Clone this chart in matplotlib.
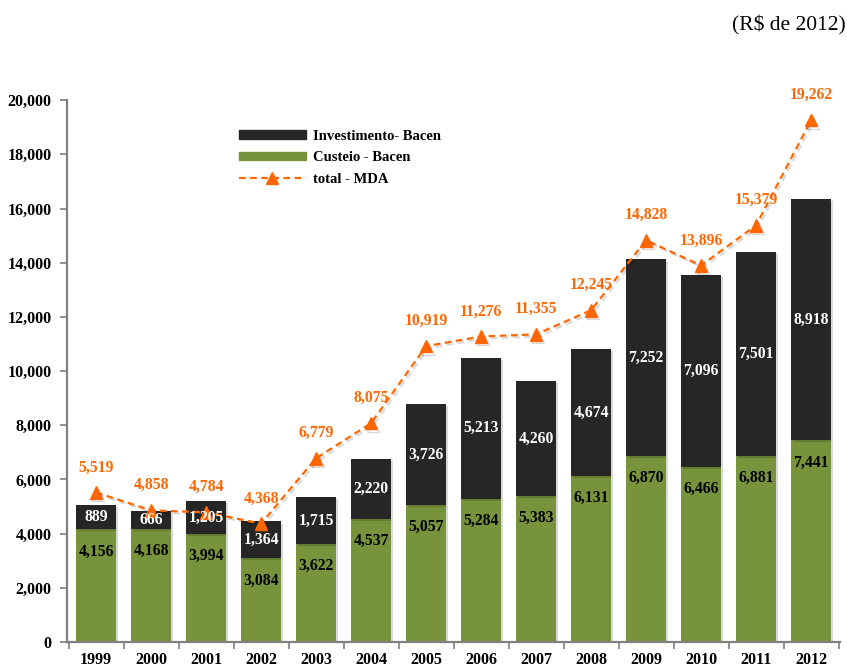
import numpy as np
import matplotlib.pyplot as plt
import matplotlib.patheffects as pe
from matplotlib.lines import Line2D
from matplotlib.patches import Patch

# series values (R$ millions, 2012 prices)
years = ["1999", "2000", "2001", "2002", "2003", "2004", "2005",
         "2006", "2007", "2008", "2009", "2010", "2011", "2012"]
custeio = [4156, 4168, 3994, 3084, 3622, 4537, 5057, 5284, 5383, 6131, 6870, 6466, 6881, 7441]
investimento = [889, 666, 1205, 1364, 1715, 2220, 3726, 5213, 4260, 4674, 7252, 7096, 7501, 8918]
total_mda = [5519, 4858, 4784, 4368, 6779, 8075, 10919, 11276, 11355, 12245, 14828, 13896, 15379, 19262]

GREEN = "#77933c"
DARK = "#262626"
ORANGE = "#ff6600"
LABEL_SIZE = 11.3

plt.rcParams["font.family"] = ["Liberation Serif", "DejaVu Serif"]

fig = plt.figure(figsize=(8.47, 6.68), dpi=100)
ax = fig.add_axes([0.079, 0.039, 0.913, 0.811])

x = np.arange(len(years))
w = 0.73
shadow = [pe.SimplePatchShadow(offset=(1.5, -1.5), alpha=0.15, shadow_rgbFace="k"), pe.Normal()]

bars_c = ax.bar(x, custeio, w, color=GREEN, zorder=2)
bars_i = ax.bar(x, investimento, w, bottom=custeio, color=DARK, zorder=2)
for b in list(bars_c) + list(bars_i):
    b.set_path_effects(shadow)

line_shadow = [pe.SimpleLineShadow(offset=(1.5, -1.5), alpha=0.15, shadow_color="k"), pe.Normal()]
ax.plot(x, total_mda, color=ORANGE, ls=(0, (3, 2)), lw=1.6, marker="^", ms=9,
        mfc=ORANGE, mec=ORANGE, zorder=4, path_effects=line_shadow)

# labels: green ones just inside the top, dark ones centred, totals above markers
for i in range(len(years)):
    ax.annotate(f"{custeio[i]:,}", (x[i], custeio[i]), xytext=(0, -16),
                textcoords="offset points", ha="center", va="center",
                fontsize=LABEL_SIZE, fontweight="bold", color="black", zorder=5)
    ax.text(x[i], custeio[i] + investimento[i] / 2, f"{investimento[i]:,}",
            ha="center", va="center", fontsize=LABEL_SIZE, fontweight="bold",
            color="white", zorder=5)
    ax.annotate(f"{total_mda[i]:,}", (x[i], total_mda[i]), xytext=(0, 18),
                textcoords="offset points", ha="center", va="center",
                fontsize=LABEL_SIZE, fontweight="bold", color=ORANGE, zorder=5)

ax.set_ylim(0, 20000)
ax.set_xlim(-0.53, 13.53)
ax.set_yticks(np.arange(0, 20001, 2000))
ax.set_yticklabels([f"{v:,}" for v in range(0, 20001, 2000)], fontsize=11.5, fontweight="bold")
ax.set_xticks(x)
ax.set_xticklabels(years, fontsize=11.5, fontweight="bold")
ax.set_xticks(np.arange(-0.5, len(years), 1), minor=True)
ax.tick_params(axis="x", which="major", length=0, pad=7)
ax.tick_params(axis="x", which="minor", length=5, color="#808080", width=1.2)
ax.tick_params(axis="y", length=5, color="#808080", width=1.2, pad=6)

for s in ["top", "right"]:
    ax.spines[s].set_visible(False)
for s in ["left", "bottom"]:
    ax.spines[s].set_color("#808080")
    ax.spines[s].set_linewidth(1.6)

handles = [Patch(color=DARK), Patch(color=GREEN),
           Line2D([], [], color=ORANGE, ls=(0, (3, 2)), lw=1.6, marker="^", ms=8)]
ax.legend(handles, ["Investimento- Bacen", "Custeio - Bacen", "total - MDA"],
          loc="upper left", bbox_to_anchor=(0.205, 0.97), frameon=False,
          handlelength=4.6, handleheight=0.5, labelspacing=0.6, handletextpad=0.5,
          prop={"weight": "bold", "size": 10.5})

fig.text(0.998, 0.962, "(R$ de 2012)", ha="right", va="center", fontsize=15.5)

fig.savefig("out.png", dpi=100)
